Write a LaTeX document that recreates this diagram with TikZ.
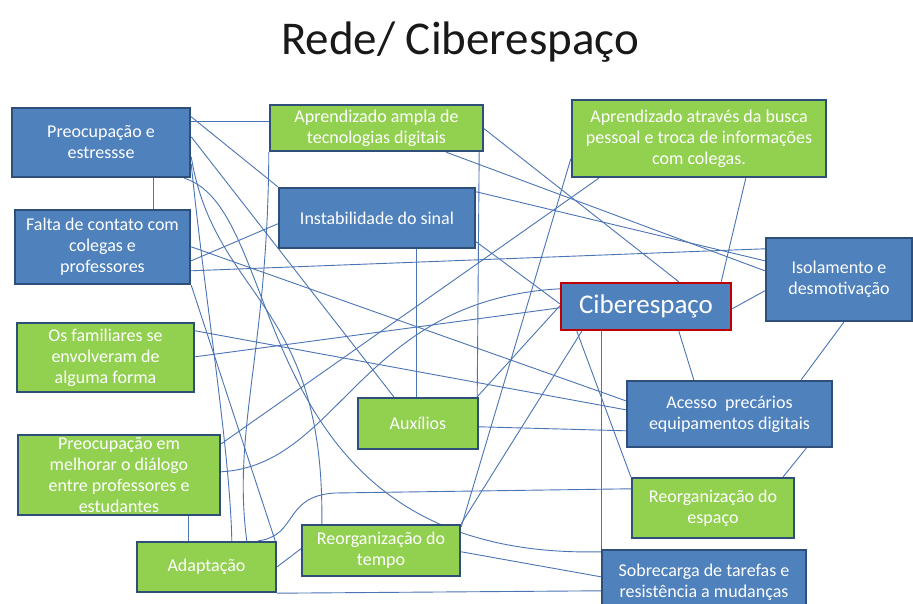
\documentclass[tikz,border=0pt]{standalone}
\usepackage{fontspec}
\setmainfont{Carlito}
\usetikzlibrary{backgrounds}
\definecolor{bfill}{HTML}{4F81BD}
\definecolor{gfill}{HTML}{92D050}
\definecolor{bord}{HTML}{2E4F7A}
\definecolor{redb}{HTML}{C00000}
\definecolor{conn}{HTML}{4A74B4}
\begin{document}
\begin{tikzpicture}[x=1pt,y=-1pt,
  box/.style={draw=bord, line width=2.4pt, inner sep=0pt, align=center, text=white, font=\fontsize{18}{21}\selectfont},
  bluebox/.style={box, fill=bfill},
  greenbox/.style={box, fill=gfill},
  cyber/.style={box, fill=bfill, draw=redb, font=\fontsize{27}{30}\selectfont},
  link/.style={draw=conn, line width=0.9pt}]
\useasboundingbox (0,0) rectangle (913,604);

\node[font=\fontsize{47}{50}\selectfont, text=black!90] (title) at (460,42) {Rede/ Ciberespaço};

\node[bluebox, minimum width=178pt, minimum height=69pt] (PE) at (101,142.5) {Preocupação e\\estressse};
\node[greenbox, minimum width=213pt, minimum height=46pt] (AA) at (376.5,128) {Aprendizado ampla de\\tecnologias digitais};
\node[greenbox, minimum width=254pt, minimum height=77pt] (AT) at (699,138.5) {Aprendizado através da busca\\pessoal e troca de informações\\com colegas.};
\node[bluebox, minimum width=196pt, minimum height=60pt] (IN) at (377,218) {Instabilidade do sinal};
\node[bluebox, minimum width=175pt, minimum height=74pt] (FC) at (102.5,247) {Falta de contato com\\colegas e\\professores};
\node[bluebox, minimum width=146pt, minimum height=83pt] (IS) at (839,279.5) {Isolamento e\\desmotivação};
\node[cyber, minimum width=170pt, minimum height=47pt] (CB) at (646,306.5) {Ciberespaço};
\node[greenbox, minimum width=177pt, minimum height=69pt] (OF) at (105.5,357.5) {Os familiares se\\envolveram de\\alguma forma};
\node[bluebox, minimum width=205pt, minimum height=66pt] (AC) at (729.5,414) {Acesso\ \ precários\\equipamentos digitais};
\node[greenbox, minimum width=120pt, minimum height=51pt] (AX) at (418,423.5) {Auxílios};
\node[greenbox, minimum width=202pt, minimum height=80pt] (PM) at (119,475) {Preocupação em\\melhorar o diálogo\\entre professores e\\estudantes};
\node[greenbox, minimum width=162pt, minimum height=60pt] (RE) at (713,508) {Reorganização do\\espaço};
\node[greenbox, minimum width=139pt, minimum height=50pt] (AD) at (206.5,567) {Adaptação};
\node[greenbox, minimum width=158pt, minimum height=51pt] (RT) at (381,550.5) {Reorganização do\\tempo};
\node[bluebox, minimum width=204pt, minimum height=64pt] (SB) at (704,582) {Sobrecarga de tarefas e\\resistência a mudanças};

\begin{pgfonlayer}{background}
\fill[white] (0,0) rectangle (913,604);
% Preocupacao e estressse
\draw[link] ([yshift=-15pt]PE.north east) -- ([yshift=-18pt]AA.north west);
\draw[link] ([yshift=-10pt]PE.north east) -- (IN.north west);
\draw[link] ([yshift=-30pt]PE.north east) -- ([xshift=37pt]AX.north west);
\draw[link] ([yshift=-50pt]PE.north east) .. controls (215,300) and (325,300) .. ([xshift=21pt]RT.north west);
\draw[link] ([yshift=-57pt]PE.north east) .. controls (205,300) and (230,450) .. ([xshift=96pt]AD.north west);
\draw[link] ([xshift=-7pt]PE.south east) .. controls (290,210) and (240,560) .. ([yshift=-3pt]SB.north west);
\draw[link] ([xshift=143pt]PE.south west) -- ([xshift=140pt]FC.north west);
% Falta de contato
\draw[link] ([yshift=-38pt]FC.north east) -- ([yshift=-21pt]AC.north west);
\draw[link] ([yshift=-52pt]FC.north east) -- ([yshift=-37pt]IN.north west);
\draw[link] ([yshift=-62pt]FC.north east) -- ([yshift=-12pt]IS.north west);
\draw[link] (FC.south east) -- ([xshift=-2pt]AD.north east);
% Os familiares
\draw[link] ([yshift=-9pt]OF.north east) -- ([yshift=-30pt]AC.north west);
\draw[link] ([yshift=-35pt]OF.north east) -- ([yshift=-26pt]CB.north west);
% Preocupacao em melhorar
\draw[link] ([yshift=-10pt]PM.north east) -- ([xshift=28pt]AT.south west);
\draw[link] ([yshift=-38pt]PM.north east) .. controls (340,465) and (360,300) .. ([yshift=-7pt]CB.north west);
\draw[link] ([xshift=172pt]PM.south west) -- ([xshift=53pt]AD.north west);
% Adaptacao
\draw[link] ([yshift=-26pt]AD.north east) -- ([yshift=-25pt]RT.north west);
\draw[link] (AD.south east) -- ([yshift=-42pt]SB.north west);
\coordinate (bend) at (335,493);
\draw[link] ([xshift=-19pt]AD.north east) .. controls (298,536) and (283,496) .. (bend) -- ([yshift=-12pt]RE.north west);
\draw[link] (AA.south west) .. controls (268,350) and (232,430) .. ([xshift=111pt]AD.north west);
% Reorganizacao do tempo
\draw[link] ([yshift=-28pt]RT.north east) -- ([yshift=-28pt]SB.north west);
\draw[link] ([yshift=-60pt]AT.north west) -- ([yshift=-3pt]RT.north east);
\draw[link] ([xshift=22pt]CB.south west) -- (RT.north east);
% Ciberespaco
\draw[link] ([xshift=42pt]CB.south west) -- ([xshift=1pt]SB.north west);
\draw[link] ([xshift=17pt]CB.south west) -- (RE.north west);
\draw[link] ([yshift=-24pt]CB.north west) -- ([xshift=-2pt]AX.north east);
\draw[link] ([yshift=-55pt]IN.north east) -- ([yshift=-22pt]CB.north west);
\draw[link] ([yshift=-27pt]CB.north east) -- ([yshift=-54pt]IS.north west);
\draw[link] ([xshift=175pt]AT.south west) -- ([xshift=-11pt]CB.north east);
\draw[link] ([yshift=-25pt]AA.north east) -- ([xshift=119pt]CB.north west);
\draw[link] ([xshift=119pt]CB.south west) -- ([xshift=68pt]AC.north west);
% Isolamento
\draw[link] ([xshift=-38pt]AA.south east) -- ([yshift=-34pt]IS.north west);
\draw[link] ([yshift=-5pt]IN.north east) -- ([yshift=-24pt]IS.north west);
\draw[link] ([xshift=79pt]IS.south west) -- ([xshift=-32pt]AC.north east);
% Acesso, Auxilios
\draw[link] ([yshift=-30pt]AX.north east) -- ([yshift=-51pt]AC.north west);
\draw[link] ([xshift=-27pt]AC.south east) -- ([xshift=-12pt]RE.north east);
\draw[link] ([xshift=139pt]IN.south west) -- ([xshift=60pt]AX.north west);
\draw[link] ([xshift=-5pt]AA.south east) -- ([xshift=-2pt]AX.north east);
\end{pgfonlayer}
\end{tikzpicture}
\end{document}
